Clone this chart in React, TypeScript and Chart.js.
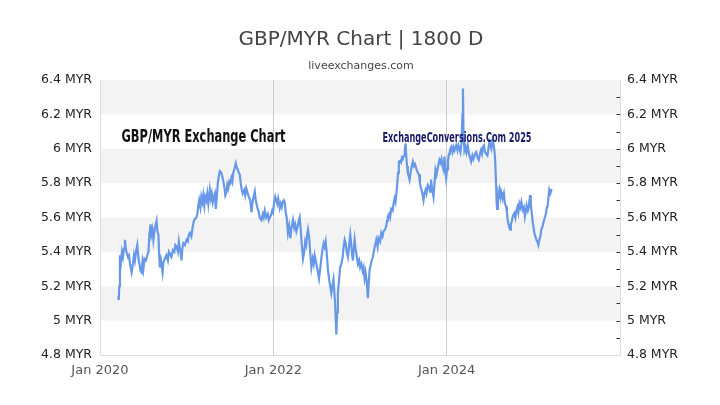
import React, { useEffect, useRef } from "react";
import { Chart, registerables } from "chart.js";

Chart.register(...registerables);

const chartTitle = "GBP/MYR Chart | 1800 D";
const chartSubtitle = "liveexchanges.com";
const watermarkLeft = "GBP/MYR Exchange Chart";
const watermarkRight = "ExchangeConversions.Com 2025";
const unit = "MYR";

// Decimal-year dates of the samples
const years = [
  2020.211, 2020.217, 2020.222, 2020.230, 2020.242, 2020.253, 2020.265, 2020.277, 2020.288, 2020.300,
  2020.311, 2020.323, 2020.334, 2020.346, 2020.365, 2020.380, 2020.392, 2020.403, 2020.415, 2020.430,
  2020.444, 2020.455, 2020.467, 2020.480, 2020.490, 2020.501, 2020.513, 2020.530, 2020.541, 2020.559,
  2020.570, 2020.584, 2020.593, 2020.605, 2020.616, 2020.628, 2020.639, 2020.653, 2020.662, 2020.674,
  2020.683, 2020.691, 2020.703, 2020.722, 2020.732, 2020.749, 2020.766, 2020.783, 2020.795, 2020.806,
  2020.824, 2020.841, 2020.858, 2020.870, 2020.884, 2020.899, 2020.910, 2020.922, 2020.933, 2020.941,
  2020.950, 2020.962, 2020.979, 2020.999, 2021.014, 2021.025, 2021.037, 2021.054, 2021.071, 2021.083,
  2021.094, 2021.112, 2021.123, 2021.135, 2021.144, 2021.158, 2021.169, 2021.181, 2021.192, 2021.204,
  2021.215, 2021.227, 2021.238, 2021.250, 2021.267, 2021.279, 2021.290, 2021.302, 2021.313, 2021.325,
  2021.336, 2021.348, 2021.359, 2021.371, 2021.383, 2021.400, 2021.411, 2021.423, 2021.434, 2021.446,
  2021.460, 2021.469, 2021.480, 2021.492, 2021.504, 2021.517, 2021.527, 2021.538, 2021.550, 2021.567,
  2021.578, 2021.590, 2021.601, 2021.613, 2021.624, 2021.636, 2021.647, 2021.665, 2021.676, 2021.688,
  2021.705, 2021.717, 2021.734, 2021.748, 2021.757, 2021.768, 2021.786, 2021.797, 2021.815, 2021.832,
  2021.843, 2021.863, 2021.878, 2021.889, 2021.901, 2021.918, 2021.936, 2021.947, 2021.959, 2021.970,
  2021.987, 2021.997, 2022.010, 2022.022, 2022.033, 2022.045, 2022.056, 2022.074, 2022.085, 2022.097,
  2022.108, 2022.120, 2022.131, 2022.143, 2022.154, 2022.169, 2022.183, 2022.197, 2022.206, 2022.218,
  2022.227, 2022.241, 2022.252, 2022.266, 2022.281, 2022.293, 2022.304, 2022.316, 2022.327, 2022.342,
  2022.356, 2022.368, 2022.379, 2022.391, 2022.400, 2022.414, 2022.425, 2022.439, 2022.454, 2022.466,
  2022.477, 2022.497, 2022.512, 2022.527, 2022.540, 2022.558, 2022.569, 2022.581, 2022.592, 2022.604,
  2022.615, 2022.630, 2022.644, 2022.656, 2022.669, 2022.684, 2022.694, 2022.702, 2022.713, 2022.727,
  2022.736, 2022.745, 2022.759, 2022.771, 2022.785, 2022.800, 2022.811, 2022.823, 2022.834, 2022.846,
  2022.861, 2022.875, 2022.888, 2022.898, 2022.909, 2022.918, 2022.929, 2022.938, 2022.949, 2022.961,
  2022.976, 2022.990, 2023.001, 2023.015, 2023.030, 2023.041, 2023.053, 2023.064, 2023.079, 2023.091,
  2023.101, 2023.111, 2023.122, 2023.134, 2023.149, 2023.162, 2023.174, 2023.188, 2023.203, 2023.214,
  2023.232, 2023.245, 2023.260, 2023.272, 2023.289, 2023.303, 2023.312, 2023.321, 2023.335, 2023.347,
  2023.360, 2023.376, 2023.387, 2023.399, 2023.410, 2023.422, 2023.430, 2023.439, 2023.448, 2023.462,
  2023.474, 2023.485, 2023.494, 2023.508, 2023.517, 2023.525, 2023.535, 2023.543, 2023.552, 2023.562,
  2023.572, 2023.583, 2023.594, 2023.610, 2023.623, 2023.635, 2023.652, 2023.667, 2023.681, 2023.692,
  2023.704, 2023.716, 2023.733, 2023.744, 2023.756, 2023.767, 2023.782, 2023.796, 2023.808, 2023.819,
  2023.831, 2023.848, 2023.860, 2023.871, 2023.883, 2023.894, 2023.906, 2023.917, 2023.929, 2023.940,
  2023.952, 2023.963, 2023.975, 2023.986, 2023.994, 2024.004, 2024.015, 2024.027, 2024.038, 2024.052,
  2024.067, 2024.078, 2024.090, 2024.110, 2024.125, 2024.136, 2024.148, 2024.159, 2024.171, 2024.182,
  2024.188, 2024.194, 2024.205, 2024.217, 2024.228, 2024.243, 2024.257, 2024.269, 2024.282, 2024.297,
  2024.309, 2024.326, 2024.340, 2024.355, 2024.370, 2024.384, 2024.395, 2024.407, 2024.416, 2024.430,
  2024.442, 2024.455, 2024.470, 2024.482, 2024.493, 2024.505, 2024.516, 2024.531, 2024.543, 2024.551,
  2024.560, 2024.571, 2024.577, 2024.582, 2024.591, 2024.600, 2024.608, 2024.620, 2024.628, 2024.637,
  2024.646, 2024.660, 2024.672, 2024.686, 2024.695, 2024.704, 2024.714, 2024.724, 2024.732, 2024.741,
  2024.752, 2024.764, 2024.781, 2024.793, 2024.804, 2024.816, 2024.827, 2024.839, 2024.850, 2024.862,
  2024.877, 2024.891, 2024.902, 2024.914, 2024.923, 2024.937, 2024.948, 2024.962, 2024.971, 2024.983,
  2024.994, 2025.012, 2025.023, 2025.035, 2025.046, 2025.058, 2025.069, 2025.081, 2025.092, 2025.107,
  2025.121, 2025.133, 2025.146, 2025.156, 2025.165, 2025.175, 2025.184, 2025.196, 2025.211,
];

// GBP/MYR rate at each sample
const rates = [
  5.14, 5.12, 5.20, 5.38, 5.34, 5.40, 5.37, 5.42, 5.47, 5.41,
  5.39, 5.37, 5.38, 5.33, 5.28, 5.33, 5.38, 5.35, 5.40, 5.44,
  5.36, 5.33, 5.29, 5.28, 5.34, 5.30, 5.36, 5.35, 5.37, 5.40,
  5.50, 5.56, 5.50, 5.53, 5.47, 5.52, 5.55, 5.58, 5.52, 5.50,
  5.38, 5.31, 5.35, 5.28, 5.34, 5.36, 5.38, 5.35, 5.40, 5.39,
  5.37, 5.41, 5.40, 5.44, 5.43, 5.40, 5.46, 5.42, 5.38, 5.35,
  5.42, 5.45, 5.44, 5.47, 5.46, 5.50, 5.51, 5.49, 5.55, 5.58,
  5.59, 5.60, 5.62, 5.67, 5.70, 5.66, 5.72, 5.69, 5.73, 5.67,
  5.72, 5.70, 5.74, 5.68, 5.76, 5.71, 5.74, 5.69, 5.72, 5.74,
  5.65, 5.72, 5.80, 5.84, 5.87, 5.86, 5.84, 5.81, 5.78, 5.73,
  5.75, 5.79, 5.77, 5.81, 5.80, 5.83, 5.81, 5.86, 5.88, 5.915,
  5.89, 5.88, 5.86, 5.85, 5.80, 5.76, 5.74, 5.76, 5.73, 5.77,
  5.74, 5.72, 5.70, 5.63, 5.68, 5.71, 5.75, 5.70, 5.66, 5.63,
  5.60, 5.585, 5.62, 5.60, 5.64, 5.60, 5.62, 5.585, 5.60, 5.61,
  5.64, 5.63, 5.69, 5.72, 5.70, 5.68, 5.71, 5.655, 5.68, 5.66,
  5.69, 5.70, 5.69, 5.63, 5.60, 5.51, 5.55, 5.48, 5.53, 5.56,
  5.585, 5.54, 5.56, 5.52, 5.55, 5.58, 5.60, 5.53, 5.45, 5.36,
  5.40, 5.46, 5.44, 5.50, 5.53, 5.48, 5.40, 5.31, 5.36, 5.33,
  5.38, 5.33, 5.29, 5.245, 5.30, 5.38, 5.42, 5.45, 5.43, 5.46,
  5.40, 5.295, 5.24, 5.20, 5.16, 5.21, 5.24, 5.18, 5.10, 4.92,
  5.05, 5.16, 5.24, 5.31, 5.33, 5.37, 5.43, 5.47, 5.45, 5.40,
  5.37, 5.44, 5.50, 5.45, 5.38, 5.35, 5.42, 5.47, 5.42, 5.38,
  5.33, 5.35, 5.31, 5.33, 5.29, 5.31, 5.245, 5.28, 5.22, 5.13,
  5.22, 5.295, 5.32, 5.35, 5.37, 5.41, 5.44, 5.47, 5.43, 5.48,
  5.46, 5.51, 5.49, 5.52, 5.53, 5.55, 5.58, 5.605, 5.62, 5.60,
  5.65, 5.64, 5.68, 5.71, 5.69, 5.75, 5.80, 5.86, 5.925, 5.93,
  5.92, 5.95, 5.945, 5.96, 5.99, 6.03, 5.95, 5.90, 5.86, 5.84,
  5.82, 5.86, 5.89, 5.925, 5.90, 5.91, 5.88, 5.86, 5.85, 5.80,
  5.77, 5.75, 5.70, 5.74, 5.76, 5.74, 5.79, 5.78, 5.75, 5.82,
  5.77, 5.72, 5.80, 5.876, 5.85, 5.88, 5.91, 5.935, 5.92, 5.94,
  5.90, 5.88, 5.955, 5.87, 5.83, 5.88, 5.93, 5.97, 5.99, 6.01,
  5.98, 6.01, 5.99, 6.02, 5.99, 6.02, 6.00, 5.98, 6.03, 6.20,
  6.35, 6.10, 5.99, 6.01, 5.98, 6.02, 5.97, 5.95, 5.925, 5.96,
  5.94, 5.97, 5.98, 5.95, 5.935, 5.97, 5.99, 5.97, 6.01, 6.02,
  5.98, 5.97, 5.96, 6.00, 6.04, 6.02, 6.00, 6.05, 6.02, 5.99,
  5.93, 5.78, 5.68, 5.65, 5.70, 5.73, 5.76, 5.72, 5.75, 5.73,
  5.71, 5.74, 5.68, 5.665, 5.63, 5.585, 5.56, 5.54, 5.53, 5.56,
  5.58, 5.61, 5.625, 5.60, 5.64, 5.66, 5.63, 5.68, 5.66, 5.69,
  5.645, 5.66, 5.605, 5.64, 5.67, 5.64, 5.66, 5.73, 5.68, 5.62,
  5.57, 5.51, 5.49, 5.47, 5.46, 5.44, 5.47, 5.49, 5.53, 5.55,
  5.58, 5.60, 5.625, 5.66, 5.665, 5.72, 5.76, 5.74, 5.765,
];

const xTickValues = [2020, 2022, 2024];
const xTickLabels = ["Jan 2020", "Jan 2022", "Jan 2024"];
const xRange = [2020, 2026];
const yTickValues = [4.8, 5.0, 5.2, 5.4, 5.6, 5.8, 6.0, 6.2, 6.4];
const yMinorTickValues = [4.9, 5.1, 5.3, 5.5, 5.7, 5.9, 6.1, 6.3];
const bandRanges = [
  [6.2, 6.4],
  [5.8, 6.0],
  [5.4, 5.6],
  [5.0, 5.2],
];

const FONT = "'DejaVu Sans', sans-serif";

function fmtY(v: number) {
  return `${Number(v.toFixed(1))} ${unit}`;
}

const decorPlugin = {
  id: "decor",
  beforeDraw(chart: any) {
    const { ctx, chartArea } = chart;
    const y = chart.scales.y;
    ctx.save();
    ctx.fillStyle = "#f3f3f3";
    for (const [lo, hi] of bandRanges) {
      const top = y.getPixelForValue(hi);
      const bot = y.getPixelForValue(lo);
      ctx.fillRect(chartArea.left, top, chartArea.right - chartArea.left, bot - top);
    }
    ctx.restore();
  },
  afterDatasetsDraw(chart: any) {
    const { ctx, chartArea } = chart;
    const yr = chart.scales.yRight;
    ctx.save();
    // right axis tick dashes inside the plot
    ctx.strokeStyle = "#333";
    ctx.lineWidth = 1;
    const all = [...yTickValues, ...yMinorTickValues].filter(
      (v) => v > 4.85 && v < 6.35
    );
    for (const v of all) {
      const py = Math.round(yr.getPixelForValue(v)) + 0.5;
      ctx.beginPath();
      ctx.moveTo(chartArea.right - 3.5, py);
      ctx.lineTo(chartArea.right, py);
      ctx.stroke();
    }

    // title + subtitle
    const cx = chart.width / 2;
    ctx.fillStyle = "#444";
    ctx.textAlign = "center";
    ctx.textBaseline = "middle";
    ctx.font = `20px ${FONT}`;
    ctx.fillText(chartTitle, cx + 1, 40);
    ctx.font = `11px ${FONT}`;
    ctx.fillText(chartSubtitle, cx + 1, 66);

    // condensed watermark texts
    const drawSqueezed = (
      text: string,
      x: number,
      baseline: number,
      font: string,
      width: number,
      color: string
    ) => {
      ctx.save();
      ctx.font = font;
      ctx.fillStyle = color;
      ctx.textAlign = "left";
      ctx.textBaseline = "alphabetic";
      const w = ctx.measureText(text).width;
      ctx.translate(x, baseline);
      ctx.scale(width / w, 1);
      ctx.fillText(text, 0, 0);
      ctx.restore();
    };
    drawSqueezed(
      watermarkLeft,
      chartArea.left + 21.5,
      141.5,
      `bold 18.5px 'DejaVu Sans Condensed', 'DejaVu Sans', sans-serif`,
      164,
      "#111"
    );
    drawSqueezed(
      watermarkRight,
      chartArea.left + 282.5,
      141.5,
      `bold 13.5px 'DejaVu Sans Condensed', 'DejaVu Sans', sans-serif`,
      149,
      "#1a1a66"
    );
    ctx.restore();
  },
};

export default function App() {
  const ref = useRef<HTMLCanvasElement | null>(null);

  useEffect(() => {
    if (!ref.current) return;
    const points = years.map((t, i) => ({ x: t, y: rates[i] }));
    const chart = new Chart(ref.current, {
      type: "line",
      data: {
        datasets: [
          {
            label: "GBP/MYR",
            data: points,
            borderColor: "#6798e8",
            borderWidth: 2.2,
            pointRadius: 0,
            tension: 0,
            fill: false,
          },
        ],
      },
      options: {
        responsive: false,
        animation: false,
        devicePixelRatio: 1,
        layout: { padding: { top: 80, left: 0, right: 0, bottom: 0 } },
        plugins: {
          legend: { display: false },
          title: { display: false },
          tooltip: { enabled: false },
        },
        scales: {
          x: {
            type: "linear",
            min: xRange[0],
            max: xRange[1],
            afterFit: (s: any) => {
              s.height = 50;
            },
            afterBuildTicks: (s: any) => {
              s.ticks = xTickValues.map((v) => ({ value: v }));
            },
            grid: { color: "#cccccc", lineWidth: 1, drawTicks: false },
            border: { color: "#dddddd", width: 1 },
            ticks: {
              padding: 8,
              color: "#555",
              font: { family: FONT, size: 13 },
              maxRotation: 0,
              autoSkip: false,
              callback: (v: any) => {
                const i = xTickValues.indexOf(Number(v));
                return i >= 0 ? xTickLabels[i] : "";
              },
            },
          },
          y: {
            type: "linear",
            position: "left",
            min: 4.8,
            max: 6.4,
            afterFit: (s: any) => {
              s.width = 100;
            },
            afterBuildTicks: (s: any) => {
              s.ticks = yTickValues.map((v) => ({ value: v }));
            },
            grid: { display: false, drawTicks: false },
            border: { color: "#dddddd", width: 1 },
            ticks: {
              padding: 8,
              color: "#222",
              font: { family: FONT, size: 12.5 },
              callback: (v: any) => fmtY(Number(v)),
            },
          },
          yRight: {
            type: "linear",
            position: "right",
            min: 4.8,
            max: 6.4,
            afterFit: (s: any) => {
              s.width = 100;
            },
            afterBuildTicks: (s: any) => {
              s.ticks = yTickValues.map((v) => ({ value: v }));
            },
            grid: { display: false, drawTicks: false },
            border: { color: "#dddddd", width: 1 },
            ticks: {
              padding: 7,
              color: "#222",
              font: { family: FONT, size: 12.5 },
              callback: (v: any) => fmtY(Number(v)),
            },
          },
        },
      },
      plugins: [decorPlugin],
    } as any);
    return () => chart.destroy();
  }, []);

  return (
    <div style={{ position: "fixed", left: 0, top: 0, width: 720, height: 405, background: "#fff" }}>
      <canvas ref={ref} width={720} height={405} style={{ width: 720, height: 405 }} />
    </div>
  );
}
